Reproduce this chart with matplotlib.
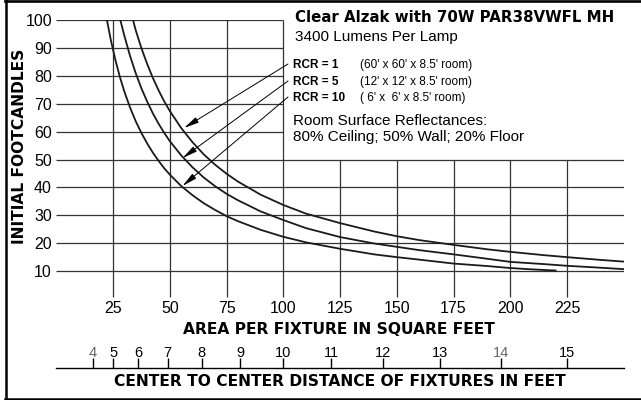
import matplotlib.pyplot as plt
from matplotlib.lines import Line2D

# footcandles vs area per fixture
areas_rcr1 = [33.8, 35, 37.5, 40, 42.5, 45, 47.5, 50, 55, 60, 65, 70, 75, 80, 90,
              100, 110, 125, 140, 150, 160, 175, 190, 200, 215, 225, 240, 250]
fc_rcr1 = [100, 96.3, 89.9, 84.3, 79.3, 74.9, 70.9, 67.4, 61.3, 56.2, 51.8, 48.1, 44.9, 42.1, 37.4,
           33.7, 30.6, 27.2, 24.2, 22.5, 21.1, 19.4, 17.8, 16.9, 15.7, 15.0, 14.0, 13.4]

areas_rcr5 = [28.2, 30, 32.5, 35, 37.5, 40, 42.5, 45, 47.5, 50, 55, 60, 65, 70, 75, 80, 90,
              100, 110, 125, 140, 150, 160, 175, 190, 200, 215, 225, 240, 250]
fc_rcr5 = [100, 94.3, 87.1, 80.9, 75.5, 70.8, 66.6, 62.9, 59.6, 56.6, 51.5, 47.2, 43.5, 40.4, 37.7, 35.4, 31.4,
           28.3, 25.4, 22.2, 19.9, 18.7, 17.5, 16.0, 14.4, 13.3, 12.5, 11.9, 11.2, 10.7]

areas_rcr10 = [22.3, 24, 26, 28, 30, 32.5, 35, 37.5, 40, 42.5, 45, 47.5, 50, 55, 60, 65, 70, 75, 80, 90,
               100, 110, 125, 140, 150, 160, 175, 190, 200, 210, 220]
fc_rcr10 = [100, 92.9, 85.8, 79.6, 74.3, 68.6, 63.7, 59.5, 55.8, 52.5, 49.6, 46.9, 44.6, 40.5, 37.2, 34.3, 31.9, 29.7, 27.9, 24.8,
            22.3, 20.3, 18.0, 16.0, 15.0, 14.1, 12.7, 11.8, 11.1, 10.6, 10.2]

area_ticks = [25, 50, 75, 100, 125, 150, 175, 200, 225]
fc_ticks = [10, 20, 30, 40, 50, 60, 70, 80, 90, 100]
distances = [4, 5, 6, 7, 8, 9, 10, 11, 12, 13, 14, 15]

rcr_labels = ["RCR = 1", "RCR = 5", "RCR = 10"]
room_labels = ["(60' x 60' x 8.5' room)", "(12' x 12' x 8.5' room)", "( 6' x  6' x 8.5' room)"]
arrow_targets = [(56.3, 61.3), (55.6, 50.5), (55.6, 40.5)]

W, H = 641, 400
fig = plt.figure(figsize=(W / 100, H / 100), dpi=100)

def fx(px):
    return px / W

def fy(py):
    return 1 - py / H

ax = fig.add_axes([fx(56.3), fy(299), (623.8 - 56.3) / W, 279 / H])
ax.set_xlim(0, 250)
ax.set_ylim(0, 100)
for s in ax.spines.values():
    s.set_visible(False)

grid_c = '#333333'
# horizontal grid: upper lines stop at 100 (text block on the right)
for v in fc_ticks:
    ax.hlines(v, 0, 250 if v <= 50 else 100, color=grid_c, lw=0.9, zorder=1)
for a in area_ticks:
    ax.vlines(a, 0.8, 100 if a <= 100 else 50, color=grid_c, lw=0.9, zorder=1)

curve_c = '#1a1a1a'
ax.plot(areas_rcr1, fc_rcr1, color=curve_c, lw=1.3, zorder=3)
ax.plot(areas_rcr5, fc_rcr5, color=curve_c, lw=1.3, zorder=3)
ax.plot(areas_rcr10, fc_rcr10, color=curve_c, lw=1.3, zorder=3)

num_font = {'family': 'Liberation Sans', 'size': 11.5}
ax.set_xticks(area_ticks)
ax.set_xticklabels([str(a) for a in area_ticks], fontdict=num_font)
ax.set_yticks(fc_ticks)
ax.set_yticklabels([str(v) for v in fc_ticks], fontdict=num_font)
ax.tick_params(axis='x', length=0, pad=1.7)
ax.tick_params(axis='y', length=0, pad=3.1)

bold = {'family': 'DejaVu Sans', 'weight': 'bold', 'size': 11.2}
fig.text(fx(19.5), fy(146), 'INITIAL FOOTCANDLES', rotation=90, ha='center', va='center', **bold)
fig.text(fx(339), fy(329), 'AREA PER FIXTURE IN SQUARE FEET', ha='center', va='center', **bold)
fig.text(fx(340), fy(382), 'CENTER TO CENTER DISTANCE OF FIXTURES IN FEET', ha='center', va='center', **bold)

# distance scale: area = distance squared
ax2 = fig.add_axes([fx(56.3), fy(368) - 0.02, (623.8 - 56.3) / W, 0.02])
ax2.set_xlim(0, 250)
ax2.set_yticks([])
for k, s in ax2.spines.items():
    s.set_visible(k == 'top')
ax2.spines['top'].set_linewidth(1.0)
ax2.patch.set_visible(False)
ax2.xaxis.tick_top()
ax2.set_xticks([d * d for d in distances])
ax2.set_xticklabels([str(d) for d in distances], family='Liberation Sans', size=10.5)
ax2.tick_params(axis='x', direction='out', length=7, width=1.0, pad=-1)
for lbl, d in zip(ax2.get_xticklabels(), distances):
    if d in (4, 14):
        lbl.set_color('#666666')

# text block
fig.text(fx(295), fy(18), 'Clear Alzak with 70W PAR38VWFL MH', ha='left', va='center',
         family='DejaVu Sans', weight='bold', size=10.8)
fig.text(fx(295), fy(37), '3400 Lumens Per Lamp', ha='left', va='center',
         family='Liberation Sans', size=11)
rows_y = [65, 82, 98]
for lab, room, ry, tgt in zip(rcr_labels, room_labels, rows_y, arrow_targets):
    fig.text(fx(293), fy(ry), lab, ha='left', va='center',
             family='Liberation Sans', weight='bold', size=8.5)
    fig.text(fx(360), fy(ry), room, ha='left', va='center',
             family='Liberation Sans', size=8.5)
    ax.annotate('', xy=tgt, xycoords='data',
                xytext=(fx(288), fy(ry - 1)), textcoords='figure fraction',
                arrowprops=dict(arrowstyle='-|>,head_length=0.9,head_width=0.18',
                                mutation_scale=10, lw=0.7, color='black',
                                shrinkA=0, shrinkB=0), zorder=4)
fig.text(fx(293), fy(121), 'Room Surface Reflectances:', ha='left', va='center',
         family='Liberation Sans', size=11)
fig.text(fx(293), fy(137), '80% Ceiling; 50% Wall; 20% Floor', ha='left', va='center',
         family='Liberation Sans', size=11)

# outer frame (left, top, bottom)
fig.add_artist(Line2D([fx(6.2), fx(6.2)], [fy(0), fy(400)], color='black', lw=1.8))
fig.add_artist(Line2D([fx(5), fx(641)], [fy(1.3), fy(1.3)], color='black', lw=1.9))
fig.add_artist(Line2D([fx(5), fx(641)], [fy(398.8), fy(398.8)], color='black', lw=1.8))

fig.savefig('out.png', dpi=100)
